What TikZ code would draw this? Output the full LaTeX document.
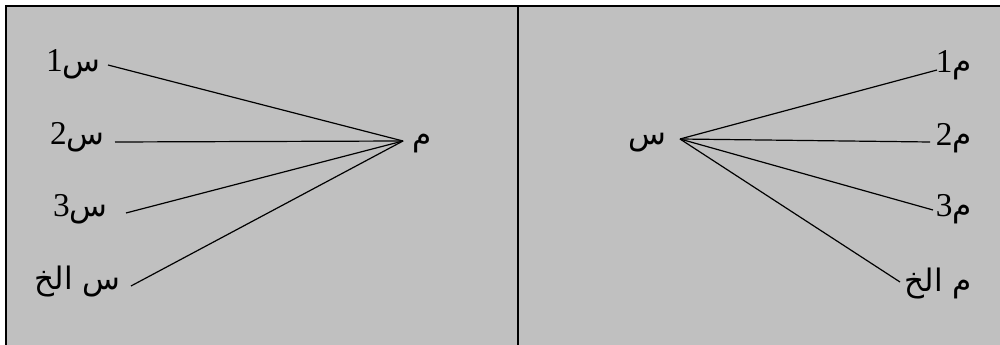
\documentclass[tikz,border=0pt]{standalone}
\usepackage{fontspec}
\setmainfont{Liberation Serif}
\newfontfamily\arabicfont[Script=Arabic,Scale=0.93]{DejaVu Sans}
\TeXXeTstate=1
\newcommand\artxt[1]{{\arabicfont #1}}
\definecolor{panelgray}{RGB}{192,192,192}
\begin{document}
\begin{tikzpicture}[x=0.75pt,y=-0.75pt,
  lbl/.style={inner sep=0pt, font=\fontsize{25}{28}\selectfont},
  conn/.style={line width=0.9pt, black}]
\useasboundingbox (0,0) rectangle (1000,345);
\fill[panelgray] (6,6) rectangle (1000,345);
\draw[line width=1.3pt] (6,345) -- (6,6) -- (1000,6);
\draw[line width=1.1pt] (518,6) -- (518,345);
% left panel labels
\node[lbl, anchor=base east] (s1) at (101,72) {\beginR\artxt{س}1\endR};
\node[lbl, anchor=base east] (s2) at (105,145) {\beginR\artxt{س}2\endR};
\node[lbl, anchor=base east] (s3) at (108,217) {\beginR\artxt{س}3\endR};
\node[lbl, anchor=base east] (setc) at (121,290) {\beginR\artxt{س الخ}\endR};
\node[lbl, anchor=base west] (mhub) at (412,146) {\beginR\artxt{م}\endR};
% left connector ends
\coordinate (ls1) at (108,65);
\coordinate (ls2) at (115,142);
\coordinate (ls3) at (126,213);
\coordinate (ls4) at (131,286);
\coordinate (hl) at (403,141);
\draw[conn] (ls1) -- (hl);
\draw[conn] (ls2) -- (hl);
\draw[conn] (ls3) -- (hl);
\draw[conn] (ls4) -- (hl);
% right panel labels
\node[lbl, anchor=base west] (shub) at (628,145) {\beginR\artxt{س}\endR};
\node[lbl, anchor=base east] (m1) at (972,73) {\beginR\artxt{م}1\endR};
\node[lbl, anchor=base east] (m2) at (972,146) {\beginR\artxt{م}2\endR};
\node[lbl, anchor=base east] (m3) at (972,217) {\beginR\artxt{م}3\endR};
\node[lbl, anchor=base east] (metc) at (972,292) {\beginR\artxt{م الخ}\endR};
\coordinate (hr) at (680,139);
\coordinate (rm1) at (937,70);
\coordinate (rm2) at (930,142);
\coordinate (rm3) at (933,210);
\coordinate (rm4) at (900,282);
\draw[conn] (hr) -- (rm1);
\draw[conn] (hr) -- (rm2);
\draw[conn] (hr) -- (rm3);
\draw[conn] (hr) -- (rm4);
\end{tikzpicture}
\end{document}
